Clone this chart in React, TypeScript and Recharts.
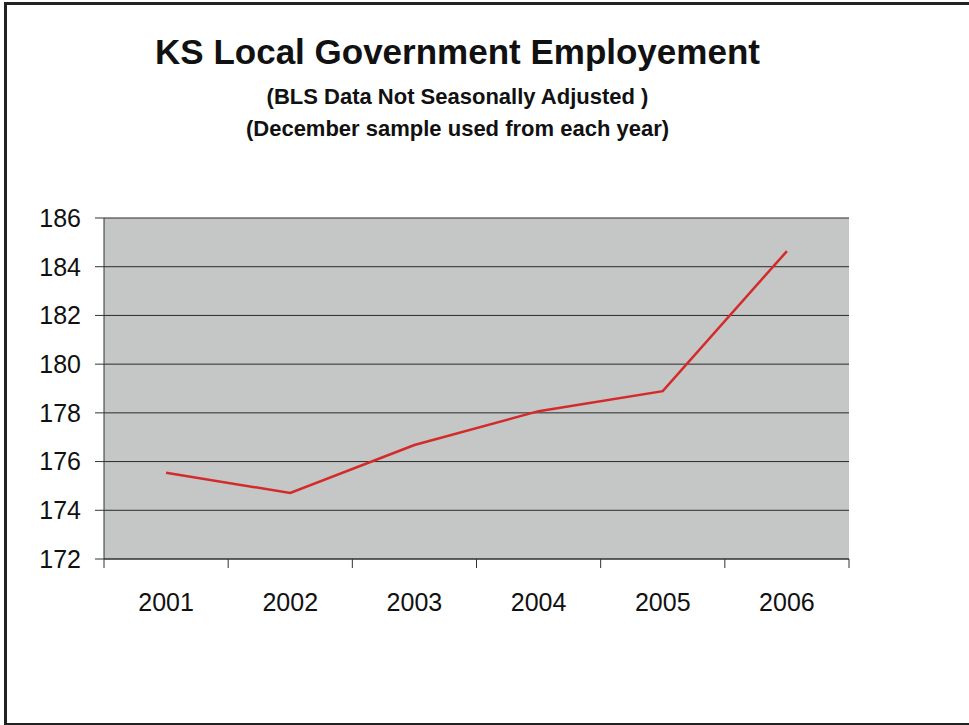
import { LineChart, Line, XAxis, YAxis, CartesianGrid } from 'recharts'

const YEARS = ['2001', '2002', '2003', '2004', '2005', '2006']
const EMPLOYMENT = [175.54, 174.71, 176.68, 178.07, 178.89, 184.64]
const Y_TICKS = [172, 174, 176, 178, 180, 182, 184, 186]

const data = YEARS.map((year, i) => ({ year, value: EMPLOYMENT[i] }))

const FONT = '"Liberation Sans", Arial, sans-serif'
const BAND = 745 / YEARS.length

// year label in the middle of its band, tick marks on the band boundaries (Excel style)
function YearTick(props: any) {
  const { x, y, index, payload } = props
  const left = x - BAND / 2
  return (
    <g>
      <line x1={left} x2={left} y1={y} y2={y + 9} stroke="#333" strokeWidth={1} />
      {index === YEARS.length - 1 && (
        <line x1={left + BAND} x2={left + BAND} y1={y} y2={y + 9} stroke="#333" strokeWidth={1} />
      )}
      <text x={x} y={y + 52} textAnchor="middle" fontSize={25} fill="#111" fontFamily={FONT}>
        {payload.value}
      </text>
    </g>
  )
}

export default function App() {
  return (
    <div style={{ position: 'absolute', left: 0, top: 0, width: 969, height: 725, background: '#fff', fontFamily: FONT }}>
      <div style={{ position: 'absolute', left: 4, top: 2, width: 965, height: 718, borderTop: '3px solid #222', borderLeft: '3px solid #222', borderBottom: '4px solid #222' }} />
      <div style={{ position: 'absolute', left: 0, width: 915, top: 32, textAlign: 'center', fontSize: 35, fontWeight: 'bold', color: '#111' }}>
        KS Local Government Employement
      </div>
      <div style={{ position: 'absolute', left: 0, width: 915, top: 84, textAlign: 'center', fontSize: 22, fontWeight: 'bold', color: '#111' }}>
        (BLS Data Not Seasonally Adjusted )
      </div>
      <div style={{ position: 'absolute', left: 0, width: 915, top: 116, textAlign: 'center', fontSize: 22, fontWeight: 'bold', color: '#111' }}>
        (December sample used from each year)
      </div>
      <div style={{ position: 'absolute', left: 0, top: 0 }}>
        <LineChart width={969} height={725} data={data} margin={{ top: 218, right: 120, bottom: 106, left: 0 }}>
          <CartesianGrid vertical={false} fill="#c4c7c5" stroke="#2a2a2a" strokeOpacity={1} />
          <XAxis
            dataKey="year"
            height={60}
            padding={{ left: BAND / 2, right: BAND / 2 }}
            axisLine={{ stroke: '#333' }}
            tickLine={false}
            tickSize={0}
            tickMargin={0}
            interval={0}
            tick={<YearTick />}
          />
          <YAxis
            domain={[172, 186]}
            ticks={Y_TICKS}
            width={104}
            interval={0}
            axisLine={{ stroke: '#333' }}
            tickSize={9}
            tickLine={{ stroke: '#333' }}
            tickMargin={14}
            tick={{ fontSize: 25, fill: '#111', fontFamily: FONT }}
          />
          <YAxis yAxisId="right" orientation="right" width={0} domain={[172, 186]} tick={false} tickLine={false} axisLine={{ stroke: '#555' }} />
          <Line
            type="linear"
            dataKey="value"
            stroke="#d42a2a"
            strokeWidth={2.5}
            dot={false}
            activeDot={false}
            isAnimationActive={false}
          />
        </LineChart>
      </div>
    </div>
  )
}
